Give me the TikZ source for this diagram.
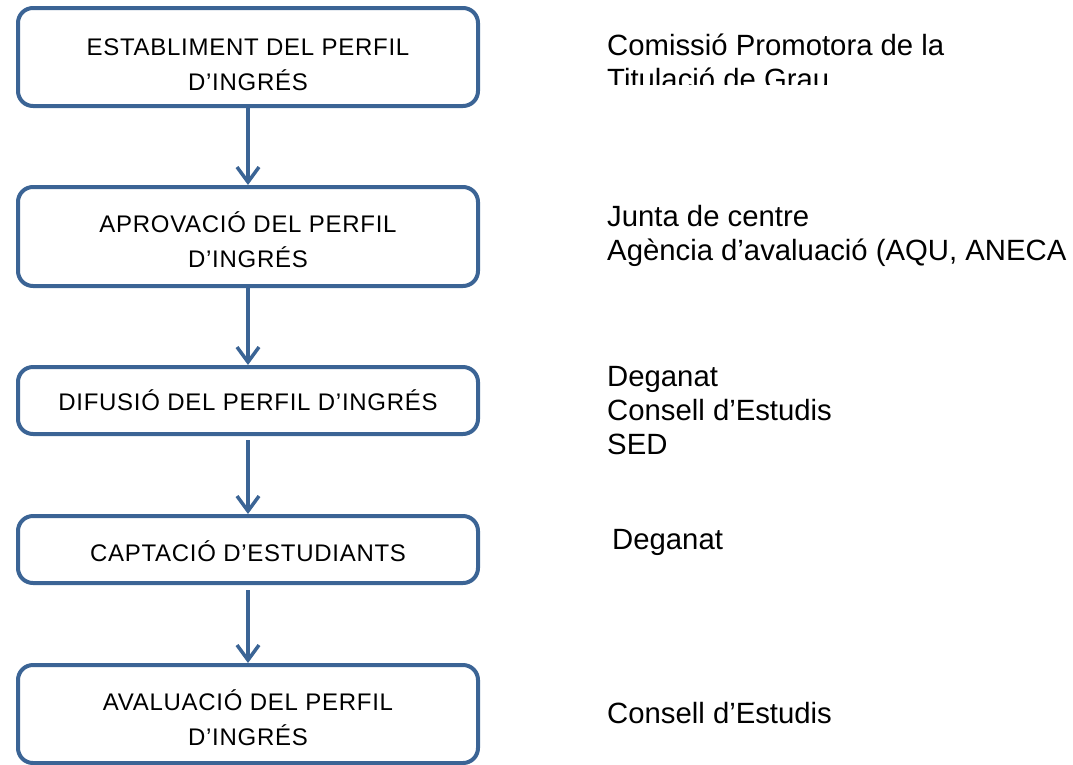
\documentclass[tikz,border=0pt]{standalone}
\usepackage{fontspec}
\setmainfont{Liberation Sans}
\newfontfamily\boxfont[LetterSpace=3]{Liberation Sans}
\usetikzlibrary{arrows.meta}

\definecolor{flowblue}{HTML}{3B6495}
\newcommand{\topgap}[1]{\rule{0pt}{#1}}

\begin{document}
\begin{tikzpicture}[
    x=1pt, y=-1pt,
    >={Straight Barb[width=22pt, length=15pt, line width=3.5pt]},
    step node/.style={draw=flowblue, line width=4pt, rounded corners=15pt, fill=white,
        minimum width=460pt, inner sep=0pt, align=center,
        font=\boxfont\fontsize{24}{35}\selectfont},
    who/.style={anchor=west, inner sep=0pt, align=left,
        font=\fontsize{29.3}{34}\selectfont},
    flow/.style={->, draw=flowblue, line width=3.5pt}
]
\useasboundingbox (0,0) rectangle (1073,764);

% Steps
\node[step node, minimum height=98pt] at (248, 57) (est) {\topgap{33pt}ESTABLIMENT DEL PERFIL\\D’INGRÉS};
\node[step node, minimum height=99pt] at (248, 236.5) (apr) {\topgap{28pt}APROVACIÓ DEL PERFIL\\D’INGRÉS};
\node[step node, minimum height=67pt] at (248, 400.5) (dif) {DIFUSIÓ DEL PERFIL D’INGRÉS};
\node[step node, minimum height=67pt] at (248, 549.5) (cap) {\topgap{24pt}CAPTACIÓ D’ESTUDIANTS};
\node[step node, minimum height=98pt] at (248, 714) (ava) {\topgap{28pt}AVALUACIÓ DEL PERFIL\\D’INGRÉS};

% Responsibles
\begin{scope}
\clip (560, 0) rectangle (1073, 84);
\node[who] at (607, 62) (comissio) {Comissió Promotora de la\\Titulació de Grau};
\end{scope}
\node[who] at (607, 236) (junta) {Junta de centre\\Agència d’avaluació (AQU, ANECA};
\node[who] at (607, 411) (degconsed) {Deganat\\Consell d’Estudis\\SED};
\node[who] at (612, 542) (deganat) {Deganat};
\node[who] at (607, 713) (consell) {Consell d’Estudis};

% Arrows
\draw[flow] (est.south) -- (apr.north);
\draw[flow] (apr.south) -- (dif.north);
\draw[flow] ([yshift=-4pt]dif.south) -- (cap.north);
\draw[flow] ([yshift=-5pt]cap.south) -- (ava.north);

\end{tikzpicture}
\end{document}
